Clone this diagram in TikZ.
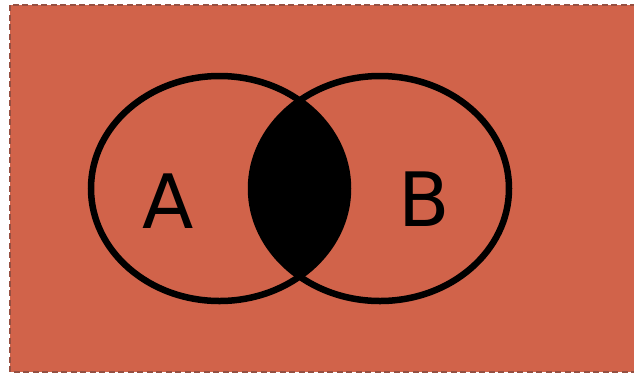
\documentclass[tikz,border=0pt]{standalone}
\usepackage{fontspec}
\setmainfont{DejaVu Sans}
\definecolor{bgfill}{RGB}{209,99,74}
\definecolor{bgedge}{RGB}{150,80,66}
\begin{document}
\begin{tikzpicture}[x=1pt,y=-1pt,
  ring/.style={draw=black,line width=6.5pt},
  lbl/.style={font=\fontsize{75}{75}\selectfont,inner sep=0pt}]
\useasboundingbox (0,0) rectangle (634,373);
\path[fill=bgfill,draw=bgedge,line width=1.6pt,dash pattern=on 6pt off 3.5pt] (10,5) rectangle (640,372);
\begin{scope}
  \clip (219.5,188.5) ellipse (128.5 and 112.5);
  \fill[black] (380,188.5) ellipse (129 and 112.5);
\end{scope}
\draw[ring] (219.5,188.5) ellipse (128.5 and 112.5);
\draw[ring] (380,188.5) ellipse (129 and 112.5);
\node[lbl] (A) at (168,201) {A};
\node[lbl] (B) at (424,199) {B};
\end{tikzpicture}
\end{document}
